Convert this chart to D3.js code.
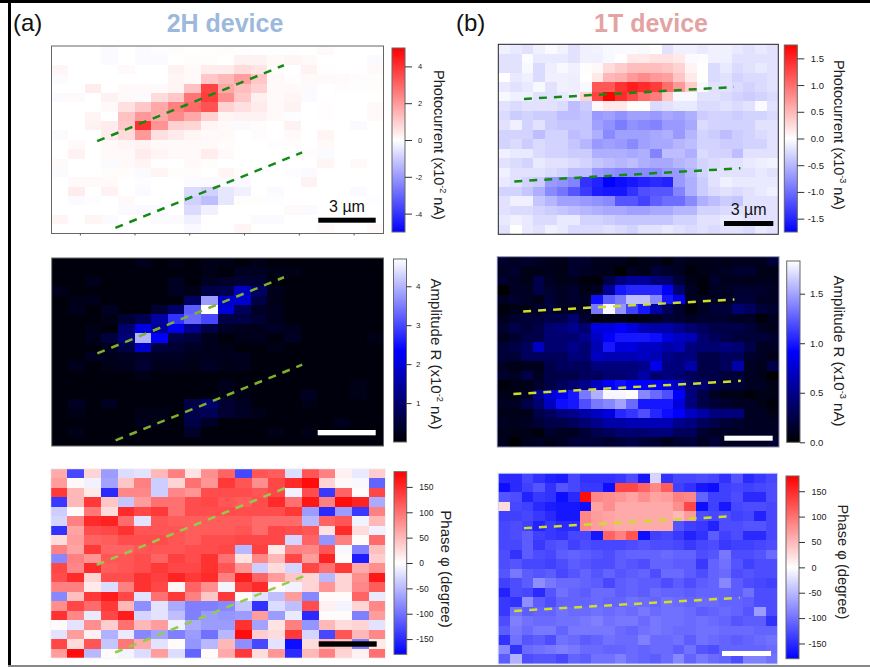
<!DOCTYPE html>
<html><head><meta charset="utf-8">
<script src="https://cdn.jsdelivr.net/npm/d3@7"></script>
<style>html,body{margin:0;padding:0;background:#fff}svg{display:block}text{font-family:"Liberation Sans",Arial,sans-serif}</style>
</head><body><svg id="c" width="870" height="667"></svg>
<script>
const pc2H=[
[0,0,0,-.08,0,-.08,-.04,.05,0,.03,.05,.03,0,.02,.02,0,.1,0,0,0],
[0,0,0,-.08,0,-.08,-.08,0,.06,.06,0,.25,.25,.12,.2,.1,0,0,0,-.08],
[.2,0,0,0,.12,0,0,.25,.12,.35,.35,.7,.5,.06,0,.25,.03,0,0,.12],
[-.08,0,0,0,0,0,0,.2,.12,1.1,1.4,1.9,1.1,.12,.03,.12,.1,.1,.06,.06],
[0,0,.35,0,.12,.12,.12,.2,1.2,3.7,1.7,1.3,.9,.12,.12,-.08,0,-.04,-.04,.06],
[-.08,.12,0,.25,.12,-.08,.7,1.1,2.7,3.8,2.2,1.1,.3,.12,.2,-.08,0,0,0,0],
[0,0,0,.12,.6,1.1,1.7,2.5,2.9,3.4,.9,.6,.4,.12,.25,0,.03,0,0,.12],
[0,0,.2,0,1.2,2,1.7,2.3,1.7,.9,.2,.25,.25,.12,-.04,0,.03,0,0,.12],
[0,0,.25,.35,1.1,4,2.1,.9,.8,.2,.12,-.08,.06,0,.25,0,0,0,-.08,0],
[-.08,0,0,.35,.7,2,.6,.4,.2,.12,.12,0,.06,0,.12,0,.2,0,0,0],
[0,.12,0,.12,.2,.25,.12,.1,.12,.12,.06,0,0,-.04,.06,0,.12,0,0,0],
[0,.25,0,.12,.12,.35,.2,.12,.12,.35,.12,0,0,0,0,.06,-.08,0,0,0],
[.12,0,0,-.08,.12,.2,.03,0,.12,.06,0,0,0,0,0,0,.2,0,.12,0],
[-.08,0,0,.06,.06,-.08,.2,.06,.06,0,.2,.06,0,0,-.04,-.08,0,0,0,0],
[0,.12,.12,.12,0,-.04,0,0,-.08,-.08,-.08,-.12,0,0,0,.25,0,0,0,0],
[0,.35,0,.25,0,-.08,0,0,-.7,-.9,-.5,-.3,0,-.08,0,0,0,0,-.08,0],
[0,-.08,-.04,0,.12,0,0,0,-.9,-1.3,-.5,.06,.06,-.04,0,0,0,0,0,-.04],
[0,0,0,0,-.08,-.12,-.08,0,-.7,-.3,0,0,0,0,.12,-.08,0,0,0,0],
[.2,0,.2,-.08,0,0,-.08,-.08,-.3,0,0,0,-.08,-.08,0,0,0,0,0,0],
[0,0,0,0,0,0,0,0,-.12,0,0,.2,0,0,0,0,.12,0,0,.12]];
const amp2H=[
[.14,.14,.14,.16,.14,.25,.16,.2,.16,.2,.2,.14,.2,.14,.14,.14,.14,.14,.14,.14],
[.14,.1,.14,.14,.14,.14,.14,.16,.14,.2,.08,.3,.3,.2,.2,.14,.14,.14,.14,.14],
[.14,.14,.25,.08,.08,.14,.14,.3,.14,.3,.4,.5,.45,.14,.1,.16,.14,.14,.14,.14],
[.25,.14,.14,.14,.08,.08,.14,.3,.2,.65,.75,1.8,.9,.25,.14,.14,.14,.14,.14,.08],
[.08,.2,.25,.14,.14,.14,.14,.16,.9,3.8,1.9,1.9,.65,.2,.14,.14,.14,.14,.14,.14],
[.14,.25,.14,.3,.14,.14,.45,1,3.2,4.7,2,.8,.35,.25,.14,.14,.08,.14,.14,.14],
[.14,.14,.14,.2,.45,.75,1.5,2.8,3.3,3,.65,.65,.45,.25,.14,.14,.16,.14,.14,.14],
[.14,.14,.2,.08,1,2.1,1.4,2.2,1.3,.65,.35,.25,.25,.35,.25,.14,.08,.14,.14,.14],
[.14,.14,.25,.55,1.1,4,2.3,.65,.55,.25,.14,.2,.25,.14,.3,.14,.14,.14,.14,.2],
[.14,.14,.14,.25,.65,1.9,.55,.45,.35,.25,.2,.14,.14,.2,.14,.14,.16,.14,.14,.08],
[.14,.14,.3,.25,.3,.4,.35,.35,.25,.25,.25,.25,.14,.14,.14,.14,.14,.14,.14,.08],
[.14,.25,.08,.2,.25,.45,.25,.25,.2,.35,.2,.25,.14,.14,.14,.14,.16,.14,.14,.08],
[.14,.14,.08,.14,.14,.2,.14,.08,.14,.14,.16,.14,.14,.14,.14,.08,.14,.14,.14,.14],
[.14,.14,.08,.14,.08,.14,.14,.14,.14,.08,.25,.14,.14,.14,.14,.14,.08,.14,.2,.14],
[.14,.14,.14,.14,.08,.14,.14,.14,.14,.14,.2,.2,.14,.14,.14,.3,.14,.14,.2,.14],
[.14,.3,.14,.3,.08,.08,.14,.14,.65,1,.45,.3,.14,.14,.14,.2,.14,.14,.14,.14],
[.14,.2,.14,.14,.14,.2,.2,.14,.7,.8,.45,.35,.2,.14,.14,.14,.14,.14,.14,.14],
[.14,.14,.14,.08,.08,.25,.2,.14,.65,.35,.08,.14,.14,.14,.14,.14,.14,.25,.14,.14],
[.14,.2,.14,.14,.14,.14,.08,.14,.4,.08,.08,.14,.16,.2,.14,.2,.14,.14,.14,.14],
[.08,.14,.14,.14,.14,.08,.14,.14,.14,.08,.14,.14,.14,.14,.14,.14,.14,.08,.14,.14]];
const phase2H=[
[60,-130,30,-70,-25,-20,50,90,20,80,110,-130,120,115,-25,120,90,10,-15,35],
[70,5,-10,-65,40,90,-35,30,100,75,140,120,80,130,150,170,30,5,-5,-110],
[140,50,15,-150,85,85,-35,85,75,125,125,125,120,130,-10,125,-140,110,3,130],
[-140,50,140,40,-40,70,100,100,125,130,120,115,125,150,100,165,90,170,155,-60],
[-35,3,95,25,150,130,140,100,125,125,125,125,125,125,140,-70,-150,-70,-140,90],
[-30,90,150,155,105,-20,120,115,115,115,115,115,105,105,105,-50,110,120,-10,50],
[-145,65,125,130,145,120,120,120,115,115,115,120,105,130,125,120,20,150,25,-10],
[25,70,110,115,125,125,125,120,115,125,125,130,130,130,-30,110,-75,90,3,105],
[90,65,140,110,110,120,120,120,125,125,130,-50,135,15,90,85,120,-5,-90,45],
[-85,90,75,120,120,125,110,135,125,145,100,20,85,50,130,70,155,3,-160,35],
[130,85,150,115,120,125,140,130,130,145,120,75,-35,25,-30,130,100,140,60,80],
[125,150,30,125,125,145,135,155,140,150,90,160,110,70,40,30,-50,30,80,165],
[90,90,15,-25,90,145,130,8,110,80,-8,135,150,5,-10,30,75,30,85,115],
[-85,45,140,160,130,-20,100,140,90,40,140,3,-20,-45,70,-85,3,3,110,-15],
[80,130,105,140,50,-80,-20,-60,-90,-90,-85,-40,-145,-25,-45,125,10,-8,30,85],
[145,85,-15,130,160,-30,-20,-45,-90,-70,-75,-70,70,-70,-15,-150,3,3,-90,70],
[3,-20,80,35,100,50,70,-10,-60,-70,-70,145,-65,20,90,-75,50,25,30,-20],
[-20,70,10,-55,-15,-85,-65,-90,-70,-100,-50,170,35,25,140,-30,-130,120,50,85],
[130,25,120,-40,95,60,-20,3,-75,-50,50,-80,-130,-20,-175,25,50,40,-90,15],
[70,170,-50,3,-8,-25,70,-25,-110,3,60,140,25,75,-150,50,90,30,10,100]];
const pc1T=[
[-.1,-.15,-.2,-.1,-.03,-.08,-.2,-.1,-.08,-.05,-.04,-.03,-.05,0,-.2,-.1,-.1,-.15,-.1,-.1,-.15,-.2,-.15,-.2],
[-.2,-.2,-.02,-.15,-.15,-.15,-.2,-.1,-.1,-.05,0,.15,.15,.2,.2,.15,-.03,-.02,-.1,-.1,-.2,-.2,-.2,-.2],
[-.2,-.2,-.05,-.25,-.12,-.05,-.1,.02,.05,.25,.35,.45,.45,.45,.4,.3,.08,0,-.25,-.15,-.25,-.2,-.15,-.2],
[0,-.15,-.1,-.25,-.1,-.1,-.12,0,.15,.5,.55,.7,.8,.7,.65,.4,.15,0,-.25,-.2,-.3,-.25,-.25,-.2],
[-.15,-.2,-.15,-.05,-.2,-.1,-.12,-.05,1.15,1.15,1.4,1.55,1.45,1.35,1,.7,.35,-.05,-.2,-.2,-.25,-.3,-.25,-.2],
[-.05,-.1,-.1,-.2,-.2,-.15,-.1,.3,1.3,1.75,1.45,1.25,1,.9,.4,-.05,-.05,-.2,-.2,-.25,-.3,-.35,-.3,-.25],
[-.2,-.25,-.2,-.2,-.2,-.25,-.45,-.35,.05,.15,.15,.02,.02,-.25,-.2,-.15,-.15,-.25,-.25,-.2,-.25,-.2,-.03,-.2],
[-.25,-.35,-.3,-.35,-.35,-.45,-.45,-.4,-.7,-.65,-.75,-.65,-.65,-.7,-.6,-.65,-.55,-.35,-.3,-.3,-.35,-.3,-.3,-.25],
[-.2,-.1,-.3,-.2,-.35,-.4,-.4,-.4,-.65,-.75,-.9,-.75,-.8,-.85,-.7,-.7,-.6,-.25,-.3,-.3,-.3,-.3,-.2,-.2],
[-.3,-.3,-.3,-.45,-.3,-.3,-.45,-.4,-.55,-.8,-.65,-.65,-.65,-.6,-.55,-.7,-.5,-.3,-.35,-.45,-.35,-.3,-.25,-.2],
[-.3,-.25,-.35,-.25,-.3,-.3,-.4,-.5,-.7,-.65,-.7,-.8,-.65,-.6,-.6,-.5,-.45,-.3,-.3,-.35,-.35,-.3,-.3,-.2],
[-.1,-.15,-.15,-.25,-.3,-.3,-.35,-.35,-.55,-.55,-.55,-.6,-.55,-.85,-.45,-.45,-.55,-.25,-.3,-.3,-.45,-.2,-.2,-.2],
[-.2,-.25,-.3,-.15,-.2,-.2,-.25,-.3,-.4,-.45,-.5,-.45,-.55,-.6,-.6,-.5,-.45,-.3,-.25,-.2,-.2,-.15,-.12,-.08],
[-.1,-.2,-.2,-.2,-.25,-.3,-.45,-.45,-.7,-.75,-.8,-.8,-.8,-.8,-.7,-.7,-.5,-.3,-.2,-.2,-.2,-.2,-.15,-.2],
[-.15,-.2,-.3,-.35,-.7,-.75,-.85,-1.4,-1.5,-1.75,-1.7,-1.6,-1.5,-1.45,-1.5,-.7,-.55,-.35,-.2,-.1,-.15,-.15,-.15,-.15],
[-.3,-.3,-.4,-.55,-.8,-.95,-1.15,-1.35,-1.55,-1.6,-1.6,-1.4,-1.2,-1.15,-1.15,-.85,-.55,-.35,-.25,-.2,-.25,-.2,-.15,-.1],
[-.2,-.1,-.1,-.4,-.5,-.65,-.65,-.7,-.75,-.8,-1.15,-1.15,-1.3,-1.1,-1,-1,-.8,-.55,-.45,-.35,-.4,-.2,-.2,-.2],
[-.2,-.25,-.25,-.3,-.35,-.4,-.45,-.5,-.55,-.6,-.6,-.65,-.65,-.6,-.6,-.5,-.5,-.3,-.3,-.25,-.2,-.2,-.2,-.2],
[-.15,-.1,-.15,-.25,-.25,-.15,-.15,-.3,-.3,-.35,-.4,-.4,-.4,-.4,-.4,-.3,-.3,-.2,-.2,-.15,-.15,-.2,-.2,-.2],
[-.2,0,-.15,-.2,-.1,-.15,-.25,-.25,-.25,-.2,-.25,-.3,-.2,-.2,-.15,-.2,-.25,-.2,-.25,-.2,-.2,-.25,-.15,-.2]];
const amp1T=[
[.16,.13,.16,.13,.1,.08,.16,.16,.1,.1,.1,.04,.07,.1,.04,.13,.07,.08,.1,.07,.1,.1,.1,.2],
[.13,.16,.07,.07,.1,.09,.16,.13,.1,.07,0,.13,.07,.2,.16,.13,.03,.07,.1,.13,.16,.16,.09,.08],
[.16,.13,.07,.26,.13,.07,.1,.03,.04,.26,.45,.55,.55,.45,.4,.2,.07,.04,.16,.1,.1,.07,.1,.1],
[0,.13,.13,.26,.16,.13,.16,.07,.13,.55,1,1.05,1.05,1.05,.9,.4,.13,.04,.13,.13,.16,.16,.16,.13],
[.13,.16,.13,.07,.2,.13,.16,.13,.95,1.25,1.35,1.6,1.6,1.4,1,.85,.13,.13,.13,.13,.2,.2,.13,.13],
[.04,.07,.09,.16,.2,.13,.13,.13,1.35,1.8,1.45,1.15,1,.6,.33,.16,.04,.13,.2,.2,.4,.33,.2,.16],
[.1,.16,.2,.2,.26,.26,.4,.16,.04,.07,.07,.03,.07,.13,.2,.16,.13,.16,.16,.16,.13,.13,.04,.1],
[.16,.26,.2,.26,.4,.45,.5,.4,.8,.8,.9,.8,.65,.6,.6,.5,.4,.33,.26,.26,.26,.2,.13,.1],
[.1,.16,.26,.26,.4,.4,.4,.5,.7,.9,1,1,1,.95,.8,.7,.65,.4,.33,.26,.2,.2,.2,.16],
[.2,.26,.33,.7,.4,.4,.5,.4,.65,1,.8,.8,.7,.7,.6,.65,.45,.4,.4,.45,.4,.26,.13,.13],
[.2,.2,.33,.33,.33,.33,.45,.4,.7,.65,.65,.65,.7,.65,.5,.45,.45,.26,.26,.33,.33,.16,.13,.07],
[.13,.07,.1,.1,.26,.33,.33,.33,.45,.45,.45,.45,.5,.85,.45,.45,.6,.26,.26,.33,.6,.13,.1,.26],
[.16,.13,.26,.13,.26,.26,.26,.33,.33,.4,.4,.45,.6,.4,.45,.4,.33,.26,.26,.2,.2,.13,.07,0],
[.04,.07,.09,.16,.26,.33,.4,.5,.7,.9,.95,.9,.9,.9,.8,.7,.4,.4,.26,.2,.2,.13,.13,.09],
[.07,.07,.13,.5,.75,.9,1,1.35,1.55,1.8,1.8,1.83,1.4,1.3,1.2,.9,.45,.26,.13,.07,.07,.05,.07,.07],
[.13,.13,.26,.4,.7,.95,1,1.2,1.35,1.4,1.5,1.3,1,1,1,.8,.45,.26,.2,.16,.13,.13,.08,.03],
[.07,.07,.07,.26,.33,.45,.5,.6,.7,.8,1.05,1.1,1.2,1.05,.95,.9,.7,.6,.45,.45,.45,.13,.13,.07],
[.13,.1,.13,.2,.26,.26,.33,.4,.5,.6,.6,.65,.65,.65,.65,.5,.45,.33,.26,.2,.16,.13,.13,.13],
[.09,.08,.07,.05,.16,.13,.1,.2,.28,.33,.4,.4,.4,.45,.45,.33,.33,.16,.13,.13,.13,.13,.13,.13],
[.1,0,.1,.13,.09,.13,.2,.2,.2,.16,.2,.26,.2,.16,.1,.16,.2,.13,.2,.13,.13,.13,.13,.16]];
const phase1T=[
[-150,-150,-130,-145,-155,-160,-130,-145,-145,-145,-140,-125,-165,-30,-145,-130,-130,-125,-130,-145,-120,-150,-140,-130],
[-175,-150,-135,-120,-145,-120,-130,-140,-140,-170,130,130,110,85,115,-135,-145,-165,-170,-135,-130,-135,-130,-125],
[-120,-125,-155,-140,-145,-170,-150,175,85,80,75,65,80,65,70,90,85,-110,-135,-135,-125,-150,-150,-125],
[25,-130,-135,-150,-160,-165,-165,-170,65,80,60,60,60,60,60,80,130,-175,-135,-165,-130,-125,-125,-130],
[-135,-135,-130,-140,-150,-165,-165,85,70,65,60,60,60,60,60,50,70,-125,-130,-125,-135,-130,-155,-130],
[-130,-125,-135,-155,-140,-150,-150,85,70,65,60,60,60,60,60,-120,-135,-140,-155,-125,-125,-120,-120,-130],
[-130,-125,-115,-135,-140,-145,-130,-130,-165,110,90,120,-170,-135,-130,-140,-155,-145,-115,-135,-125,-150,-150,-130],
[-130,-130,-115,-140,-125,-120,-135,-125,-130,-130,-130,-125,-120,-125,-125,-130,-140,-130,-125,-140,-135,-135,-130,-125],
[-125,-145,-115,-125,-130,-115,-110,-115,-120,-125,-115,-110,-110,-110,-105,-110,-110,-125,-120,-95,-125,-125,-120,-105],
[-125,-120,-130,-130,-135,-125,-115,-120,-125,-125,-115,-120,-125,-110,-110,-115,-115,-140,-110,-100,-120,-135,-125,-125],
[-120,-95,-115,-120,-115,-130,-120,-110,-120,-110,-120,-115,-110,-125,-105,-105,-115,-125,-110,-105,-125,-120,-125,-125],
[-135,-125,-115,-80,-95,-105,-105,-110,-115,-130,-115,-110,-115,-115,-125,-115,-125,-115,-110,-85,-115,-125,-130,-135],
[-155,-125,-130,-150,-120,-100,-110,-115,-105,-105,-115,-110,-115,-105,-110,-110,-115,-110,-110,-110,-115,-100,-125,-125],
[-140,-145,-80,-115,-125,-110,-110,-110,-105,-110,-110,-100,-105,-110,-100,-105,-110,-105,-105,-110,-110,-115,-125,-125],
[-140,-100,-115,-110,-110,-100,-105,-105,-100,-105,-100,-105,-95,-105,-100,-100,-105,-115,-110,-105,-110,-120,-70,-125],
[-125,-90,-100,-105,-105,-100,-100,-95,-90,-100,-95,-95,-105,-95,-100,-100,-105,-100,-105,-110,-120,-115,-115,-145],
[-115,-95,-105,-95,-95,-110,-95,-95,-95,-95,-105,-110,-100,-95,-100,-105,-105,-100,-100,-105,-105,-105,-110,-110],
[-145,-100,-120,-115,-125,-100,-105,-115,-110,-100,-105,-105,-90,-105,-105,-100,-115,-100,-105,-110,-115,-110,-105,-100],
[-85,-145,-105,-100,-95,-90,-95,-105,-105,-110,-110,-105,-110,-105,-105,-115,-100,-120,-125,-110,-110,-110,-110,-105],
[-115,-55,-125,-120,-120,-130,-110,-115,-100,-100,-90,-105,-110,-115,-105,-85,-110,-95,-105,-110,-125,-90,-90,-100]];
const ticksPc2H=[-4,-2,0,2,4], ticksAmp2H=[1,2,3,4], ticksPhase=[-150,-100,-50,0,50,100,150];
const ticksPc1T=[-1.5,-1,-.5,0,.5,1,1.5], ticksAmp1T=[0,.5,1,1.5];
const guides2H=[[[2.75,10.15],[14,2.05]],[[3.85,19.4],[15.1,11.35]]];
const guides1T=[[[2.2,5.75],[20.2,4.5]],[[1.37,14.43],[20.75,13.05]]];
const deviceTitles=["2H device","1T device"], panelLetters=["(a)","(b)"];

const bwr=t=>t<.5?d3.rgb(510*t,510*t,255)+"":d3.rgb(255,255*(2-2*t),255*(2-2*t))+"";
const kbw=t=>t<.5?d3.rgb(0,0,510*t)+"":d3.rgb(510*(t-.5),510*(t-.5),255)+"";
const fmtInt=d=>String(d), fmt1=d=>d.toFixed(1);
const svg=d3.select("#c");
const defs=svg.append("defs");
const f=defs.append("filter").attr("id","soft").attr("x","-2%").attr("y","-2%").attr("width","104%").attr("height","104%");
f.append("feGaussianBlur").attr("stdDeviation",.5);
const root=svg.append("g");

function panel(o,id){
  const nc=o.data[0].length,nr=o.data.length;
  const x=d3.scaleLinear().domain([0,nc]).range([o.x0,o.x1]);
  const y=d3.scaleLinear().domain([0,nr]).range([o.y0,o.y1]);
  const col=d3.scaleSequential(o.cmap).domain(o.domain);
  const g=root.append("g");
  const cells=o.data.flatMap((r,j)=>r.map((v,i)=>({i,j,v})));
  g.append("g").attr("filter","url(#soft)").selectAll("rect").data(cells).join("rect")
    .attr("x",d=>Math.round(x(d.i))).attr("y",d=>Math.round(y(d.j)))
    .attr("width",d=>Math.round(x(d.i+1))-Math.round(x(d.i)))
    .attr("height",d=>Math.round(y(d.j+1))-Math.round(y(d.j)))
    .attr("fill",d=>col(d.v));
  g.append("rect").attr("x",o.x0).attr("y",o.y0).attr("width",o.x1-o.x0).attr("height",o.y1-o.y0)
    .attr("fill","none").attr("stroke",o.frame).attr("stroke-width",1);
  if(o.bottomTicks){
    const ax=d3.axisBottom(x).tickValues(o.bottomTicks).tickSize(2).tickFormat("");
    const a=g.append("g").attr("transform",`translate(0,${o.y1})`).call(ax);
    a.select(".domain").remove();a.selectAll("line").attr("stroke","#555");
  }
  const line=d3.line().x(d=>x(d[0])).y(d=>y(d[1]));
  g.selectAll("path.guide").data(o.guides).join("path").attr("class","guide")
    .attr("d",line).attr("fill","none").attr("stroke",o.gcolor).attr("stroke-width",2.5).attr("stroke-dasharray","8 7");
  g.append("rect").attr("x",o.bar[0]).attr("y",o.bar[1]).attr("width",o.bar[2]-o.bar[0]).attr("height",o.bar[3]-o.bar[1]).attr("fill",o.barColor);
  if(o.barText) g.append("text").attr("x",(o.bar[0]+o.bar[2])/2).attr("y",o.bar[1]-6).attr("text-anchor","middle").attr("font-size",16).attr("fill","#111").text("3 µm");
  const gid="g"+id, lg=defs.append("linearGradient").attr("id",gid).attr("x1",0).attr("x2",0).attr("y1",1).attr("y2",0);
  d3.range(0,1.0001,.05).forEach(t=>lg.append("stop").attr("offset",t).attr("stop-color",o.cmap(t)));
  const cy=d3.scaleLinear().domain(o.domain).range([o.cb[3],o.cb[1]]);
  g.append("rect").attr("x",o.cb[0]).attr("y",o.cb[1]).attr("width",o.cb[2]-o.cb[0]).attr("height",o.cb[3]-o.cb[1])
    .attr("fill",`url(#${gid})`).attr("stroke","#666").attr("stroke-width",1);
  const ax=d3.axisRight(cy).tickValues(o.ticks).tickSize(o.tl).tickPadding(o.tp).tickFormat(o.fmt);
  const a=g.append("g").attr("transform",`translate(${o.cb[2]},0)`).call(ax);
  a.select(".domain").remove();
  a.selectAll("line").attr("stroke","#333");
  a.selectAll("text").attr("font-size",o.fs).attr("font-family",'"Liberation Sans",Arial,sans-serif').attr("fill","#222")
    .attr("dx",d=>d<0?-o.fs*.333:0);
  const t=g.append("text").attr("transform",`translate(${o.tx},${o.ty}) rotate(90)`).attr("text-anchor","middle").attr("font-size",o.tfs).attr("fill","#222").attr("dominant-baseline","middle");
  o.title.forEach(p=>{
    const s=t.append("tspan").text(p[0]);
    if(p[1]){s.attr("font-size",o.tfs*.62).attr("dy",-4);} else if(p[2]){s.attr("dy",4);}
  });
}
const T=(a,sup,b)=>[[a],[sup,true],[b,false,true]];
panel({data:pc2H,cmap:bwr,domain:[-5,5],x0:51.5,x1:383.5,y0:46,y1:233.5,frame:"#666",guides:guides2H,gcolor:"#148a14",
  bar:[318.3,217.7,375.7,222.7],barColor:"#000",barText:true,bottomTicks:[1.71,5,8.3,11.6,14.9,18.2],
  cb:[392,48,405,232],ticks:ticksPc2H,fmt:fmtInt,tl:7,tp:6,fs:7.5,tx:438,ty:145,tfs:14.5,title:T("Photocurrent  (x10","-2"," nA)")},"a");
panel({data:amp2H,cmap:kbw,domain:[0,4.7],x0:51.7,x1:383.5,y0:258,y1:446,frame:"#666",guides:guides2H,gcolor:"#7fb02c",
  bar:[317.7,430,375.7,435.3],barColor:"#fff",cb:[393.5,259,406.5,442],ticks:ticksAmp2H,fmt:fmtInt,tl:5,tp:4.5,fs:8,tx:435,ty:354,tfs:15,title:T("Amplitude  R (x10","-2"," nA)")},"b");
panel({data:phase2H,cmap:bwr,domain:[-180,180],x0:50.7,x1:385.5,y0:468.7,y1:658.2,frame:"#f4f4f4",guides:guides2H,gcolor:"#93cc4a",
  bar:[318.7,641.3,376.7,646.7],barColor:"#000",cb:[394,471.7,406.7,654.3],ticks:ticksPhase,fmt:fmtInt,tl:6,tp:6.5,fs:8.5,tx:445,ty:569,tfs:15,title:[["Phase  φ  (degree)"]]},"c");
panel({data:pc1T,cmap:bwr,domain:[-1.75,1.75],x0:498.3,x1:778.3,y0:44.3,y1:234.3,frame:"#222",guides:guides1T,gcolor:"#148a14",
  bar:[724,221,773.3,226],barColor:"#000",barText:true,cb:[784.3,45,797.3,232],ticks:ticksPc1T,fmt:fmt1,tl:7,tp:6.5,fs:9.5,tx:838,ty:135,tfs:14.5,title:T("Photocurrent  (x10","-3"," nA)")},"d");
panel({data:amp1T,cmap:kbw,domain:[0,1.83],x0:497.3,x1:779,y0:256.7,y1:447,frame:"#8a8ab0",guides:guides1T,gcolor:"#cfdc2a",
  bar:[724.3,435.7,772.7,440.7],barColor:"#fff",cb:[786.7,261,800,442.3],ticks:ticksAmp1T,fmt:fmt1,tl:5,tp:5,fs:9.5,tx:838,ty:351,tfs:15,title:T("Amplitude  R (x10","-3"," nA)")},"e");
panel({data:phase1T,cmap:bwr,domain:[-180,180],x0:498.3,x1:777.5,y0:473.3,y1:664,frame:"#c8d4f0",guides:guides1T,gcolor:"#cfdc2a",
  bar:[722,651,771,656],barColor:"#fff",cb:[786,476,799,658.7],ticks:ticksPhase,fmt:fmtInt,tl:6,tp:6.5,fs:9,tx:842,ty:562,tfs:14.7,title:[["Phase  φ  (degree)"]]},"f");

root.selectAll("text.dev").data(deviceTitles).join("text").attr("class","dev")
  .attr("x",(d,i)=>[225,651][i]).attr("y",32).attr("text-anchor","middle")
  .attr("font-size",25).attr("font-weight","bold").attr("fill",(d,i)=>["#9cb9dd","#e3a3a3"][i]).text(d=>d);
root.selectAll("text.let").data(panelLetters).join("text").attr("class","let")
  .attr("x",(d,i)=>[13,456][i]).attr("y",31).attr("font-size",24).attr("fill","#111").text(d=>d);
root.append("rect").attr("x",0).attr("y",0).attr("width",870).attr("height",3).attr("fill","#000");
root.append("rect").attr("x",8).attr("y",0).attr("width",3).attr("height",666).attr("fill","#000");
root.append("rect").attr("x",8).attr("y",665).attr("width",862).attr("height",2).attr("fill","#888");
</script></body></html>
